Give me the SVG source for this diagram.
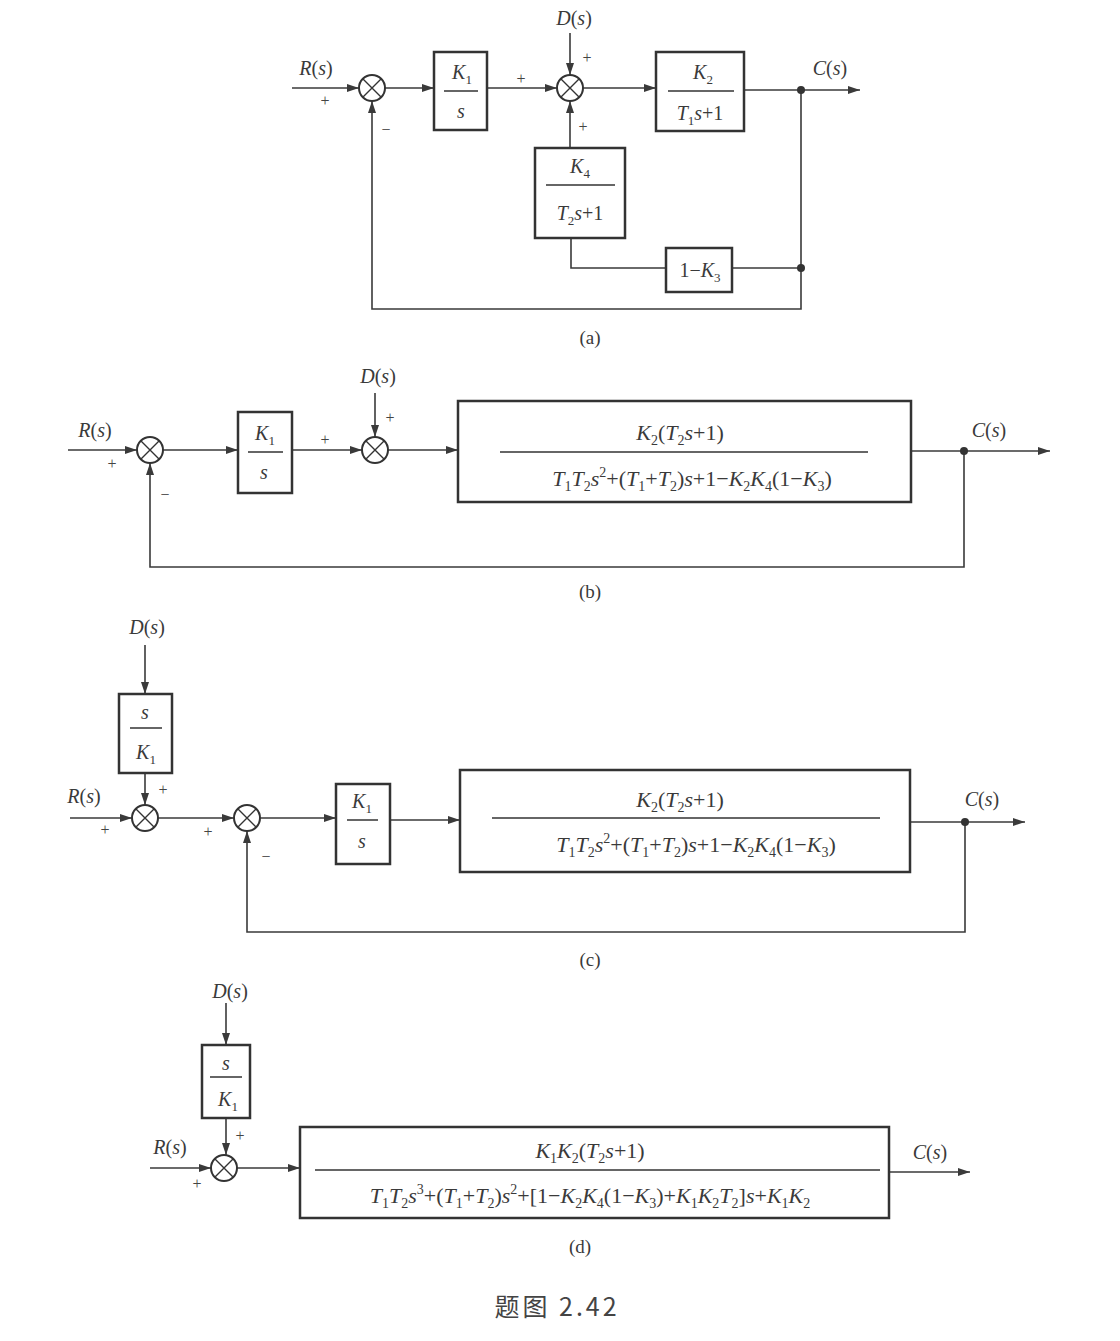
<svg xmlns="http://www.w3.org/2000/svg" width="1120" height="1341" viewBox="0 0 1120 1341">
<defs>
<marker id="ar" viewBox="0 0 12 8" refX="12" refY="4" markerWidth="12" markerHeight="8" markerUnits="userSpaceOnUse" orient="auto">
<path d="M0,0 L12,4 L0,8 Z" fill="#3a3a3a"/>
</marker>
<style>
.t{font-family:"Liberation Serif",serif;font-size:20px;fill:#3a3a3a;text-anchor:middle}
.f{font-size:22px}
.f .sb{font-size:14px}
.i{font-style:italic}
.sb{font-size:13px}
.pm{font-family:"Liberation Serif",serif;font-size:16px;fill:#444;text-anchor:middle}
.ln{stroke:#3a3a3a;stroke-width:1.6;fill:none}
.ar{marker-end:url(#ar)}
.blk{stroke:#333;stroke-width:2.5;fill:none}
.fr{stroke:#333;stroke-width:1.5}
.sum{stroke:#333;stroke-width:2;fill:#fff}
.x{stroke:#333;stroke-width:1.4}
.dot{fill:#333}
.cap{font-family:"Liberation Serif",serif;font-size:19px;fill:#3a3a3a;text-anchor:middle}
</style>
</defs>
<rect width="1120" height="1341" fill="#fff"/>

<!-- ================= (a) ================= -->
<g id="connectors-a">
<path class="ln ar" d="M292 88 H359"/>
<path class="ln ar" d="M385 88 H434"/>
<path class="ln ar" d="M487 88 H557"/>
<path class="ln ar" d="M570 33 V75"/>
<path class="ln ar" d="M583 88 H656"/>
<path class="ln ar" d="M744 90 H860"/>
<path class="ln ar" d="M801 90 V309 H372 V101"/>
<path class="ln" d="M801 268 H732"/>
<path class="ln" d="M666 268 H571 V238"/>
<path class="ln ar" d="M570 148 V101"/>
<circle class="dot" cx="801" cy="90" r="4"/>
<circle class="dot" cx="801" cy="268" r="4"/>
</g>
<g id="a-sum1"><circle class="sum" cx="372" cy="88" r="13"/><path class="x" d="M363 79 L381 97 M381 79 L363 97"/></g>
<g id="a-sum2"><circle class="sum" cx="570" cy="88" r="13"/><path class="x" d="M561 79 L579 97 M579 79 L561 97"/></g>
<g id="a-K1s">
<rect class="blk" x="434" y="52" width="53" height="78"/>
<line class="fr" x1="444" y1="91" x2="478" y2="91"/>
<text class="t" x="462" y="79"><tspan class="i">K</tspan><tspan class="sb" dy="5">1</tspan></text>
<text class="t i" x="461" y="118">s</text>
</g>
<g id="a-K2">
<rect class="blk" x="656" y="52" width="88" height="79"/>
<line class="fr" x1="668" y1="91" x2="734" y2="91"/>
<text class="t" x="703" y="79"><tspan class="i">K</tspan><tspan class="sb" dy="5">2</tspan></text>
<text class="t" x="700" y="120"><tspan class="i">T</tspan><tspan class="sb" dy="5">1</tspan><tspan class="i" dy="-5">s</tspan><tspan>+1</tspan></text>
</g>
<g id="a-K4">
<rect class="blk" x="535" y="148" width="90" height="90"/>
<line class="fr" x1="546" y1="185" x2="615" y2="185"/>
<text class="t" x="580" y="173"><tspan class="i">K</tspan><tspan class="sb" dy="5">4</tspan></text>
<text class="t" x="580" y="220"><tspan class="i">T</tspan><tspan class="sb" dy="5">2</tspan><tspan class="i" dy="-5">s</tspan><tspan>+1</tspan></text>
</g>
<g id="a-1K3">
<rect class="blk" x="666" y="248" width="66" height="44"/>
<text class="t" x="700" y="277"><tspan>1−</tspan><tspan class="i">K</tspan><tspan class="sb" dy="5">3</tspan></text>
</g>
<g id="a-labels">
<text class="t" x="316" y="75"><tspan class="i">R</tspan>(<tspan class="i">s</tspan>)</text>
<text class="pm" x="325" y="106">+</text>
<text class="pm" x="386" y="135">−</text>
<text class="pm" x="521" y="84">+</text>
<text class="t" x="574" y="25"><tspan class="i">D</tspan>(<tspan class="i">s</tspan>)</text>
<text class="pm" x="587" y="63">+</text>
<text class="pm" x="583" y="132">+</text>
<text class="t" x="830" y="75"><tspan class="i">C</tspan>(<tspan class="i">s</tspan>)</text>
<text class="cap" x="590" y="344">(a)</text>
</g>

<!-- ================= (b) ================= -->
<g id="connectors-b">
<path class="ln ar" d="M68 450 H137"/>
<path class="ln ar" d="M163 450 H238"/>
<path class="ln ar" d="M292 450 H362"/>
<path class="ln ar" d="M375 393 V437"/>
<path class="ln ar" d="M388 450 H458"/>
<path class="ln ar" d="M911 451 H1050"/>
<path class="ln ar" d="M964 451 V567 H150 V463"/>
<circle class="dot" cx="964" cy="451" r="4"/>
</g>
<g id="b-sum1"><circle class="sum" cx="150" cy="450" r="13"/><path class="x" d="M141 441 L159 459 M159 441 L141 459"/></g>
<g id="b-sum2"><circle class="sum" cx="375" cy="450" r="13"/><path class="x" d="M366 441 L384 459 M384 441 L366 459"/></g>
<g id="b-K1s">
<rect class="blk" x="238" y="412" width="54" height="81"/>
<line class="fr" x1="248" y1="452" x2="283" y2="452"/>
<text class="t" x="265" y="440"><tspan class="i">K</tspan><tspan class="sb" dy="5">1</tspan></text>
<text class="t i" x="264" y="479">s</text>
</g>
<g id="b-G">
<rect class="blk" x="458" y="401" width="453" height="101"/>
<line class="fr" x1="500" y1="452" x2="868" y2="452"/>
<text class="t f" x="680" y="440"><tspan class="i">K</tspan><tspan class="sb" dy="5">2</tspan><tspan dy="-5">(</tspan><tspan class="i">T</tspan><tspan class="sb" dy="5">2</tspan><tspan class="i" dy="-5">s</tspan><tspan>+1)</tspan></text>
<text class="t f" x="692" y="486"><tspan class="i">T</tspan><tspan class="sb" dy="5">1</tspan><tspan class="i" dy="-5">T</tspan><tspan class="sb" dy="5">2</tspan><tspan class="i" dy="-5">s</tspan><tspan class="sb" dy="-9">2</tspan><tspan dy="9">+(</tspan><tspan class="i">T</tspan><tspan class="sb" dy="5">1</tspan><tspan dy="-5">+</tspan><tspan class="i">T</tspan><tspan class="sb" dy="5">2</tspan><tspan dy="-5">)</tspan><tspan class="i">s</tspan><tspan>+1−</tspan><tspan class="i">K</tspan><tspan class="sb" dy="5">2</tspan><tspan class="i" dy="-5">K</tspan><tspan class="sb" dy="5">4</tspan><tspan dy="-5">(1−</tspan><tspan class="i">K</tspan><tspan class="sb" dy="5">3</tspan><tspan dy="-5">)</tspan></text>
</g>
<g id="b-labels">
<text class="t" x="95" y="437"><tspan class="i">R</tspan>(<tspan class="i">s</tspan>)</text>
<text class="pm" x="112" y="469">+</text>
<text class="pm" x="165" y="500">−</text>
<text class="pm" x="325" y="445">+</text>
<text class="t" x="378" y="383"><tspan class="i">D</tspan>(<tspan class="i">s</tspan>)</text>
<text class="pm" x="390" y="423">+</text>
<text class="t" x="989" y="437"><tspan class="i">C</tspan>(<tspan class="i">s</tspan>)</text>
<text class="cap" x="590" y="598">(b)</text>
</g>

<!-- ================= (c) ================= -->
<g id="connectors-c">
<path class="ln ar" d="M145 645 V694"/>
<path class="ln ar" d="M145 773 V805"/>
<path class="ln ar" d="M70 818 H132"/>
<path class="ln ar" d="M158 818 H234"/>
<path class="ln ar" d="M260 818 H336"/>
<path class="ln ar" d="M390 820 H460"/>
<path class="ln ar" d="M910 822 H1025"/>
<path class="ln ar" d="M965 822 V932 H247 V831"/>
<circle class="dot" cx="965" cy="822" r="4"/>
</g>
<g id="c-sum1"><circle class="sum" cx="145" cy="818" r="13"/><path class="x" d="M136 809 L154 827 M154 809 L136 827"/></g>
<g id="c-sum2"><circle class="sum" cx="247" cy="818" r="13"/><path class="x" d="M238 809 L256 827 M256 809 L238 827"/></g>
<g id="c-sK1">
<rect class="blk" x="119" y="694" width="53" height="79"/>
<line class="fr" x1="130" y1="728" x2="162" y2="728"/>
<text class="t i" x="145" y="719">s</text>
<text class="t" x="146" y="759"><tspan class="i">K</tspan><tspan class="sb" dy="5">1</tspan></text>
</g>
<g id="c-K1s">
<rect class="blk" x="336" y="784" width="54" height="80"/>
<line class="fr" x1="347" y1="820" x2="378" y2="820"/>
<text class="t" x="362" y="808"><tspan class="i">K</tspan><tspan class="sb" dy="5">1</tspan></text>
<text class="t i" x="362" y="848">s</text>
</g>
<g id="c-G">
<rect class="blk" x="460" y="770" width="450" height="102"/>
<line class="fr" x1="492" y1="818" x2="880" y2="818"/>
<text class="t f" x="680" y="807"><tspan class="i">K</tspan><tspan class="sb" dy="5">2</tspan><tspan dy="-5">(</tspan><tspan class="i">T</tspan><tspan class="sb" dy="5">2</tspan><tspan class="i" dy="-5">s</tspan><tspan>+1)</tspan></text>
<text class="t f" x="696" y="852"><tspan class="i">T</tspan><tspan class="sb" dy="5">1</tspan><tspan class="i" dy="-5">T</tspan><tspan class="sb" dy="5">2</tspan><tspan class="i" dy="-5">s</tspan><tspan class="sb" dy="-9">2</tspan><tspan dy="9">+(</tspan><tspan class="i">T</tspan><tspan class="sb" dy="5">1</tspan><tspan dy="-5">+</tspan><tspan class="i">T</tspan><tspan class="sb" dy="5">2</tspan><tspan dy="-5">)</tspan><tspan class="i">s</tspan><tspan>+1−</tspan><tspan class="i">K</tspan><tspan class="sb" dy="5">2</tspan><tspan class="i" dy="-5">K</tspan><tspan class="sb" dy="5">4</tspan><tspan dy="-5">(1−</tspan><tspan class="i">K</tspan><tspan class="sb" dy="5">3</tspan><tspan dy="-5">)</tspan></text>
</g>
<g id="c-labels">
<text class="t" x="147" y="634"><tspan class="i">D</tspan>(<tspan class="i">s</tspan>)</text>
<text class="pm" x="163" y="795">+</text>
<text class="t" x="84" y="803"><tspan class="i">R</tspan>(<tspan class="i">s</tspan>)</text>
<text class="pm" x="105" y="835">+</text>
<text class="pm" x="208" y="837">+</text>
<text class="pm" x="266" y="862">−</text>
<text class="t" x="982" y="806"><tspan class="i">C</tspan>(<tspan class="i">s</tspan>)</text>
<text class="cap" x="590" y="966">(c)</text>
</g>

<!-- ================= (d) ================= -->
<g id="connectors-d">
<path class="ln ar" d="M226 1003 V1045"/>
<path class="ln ar" d="M226 1118 V1155"/>
<path class="ln ar" d="M150 1168 H211"/>
<path class="ln ar" d="M237 1168 H300"/>
<path class="ln ar" d="M889 1172 H970"/>
</g>
<g id="d-sum"><circle class="sum" cx="224" cy="1168" r="13"/><path class="x" d="M215 1159 L233 1177 M233 1159 L215 1177"/></g>
<g id="d-sK1">
<rect class="blk" x="202" y="1045" width="48" height="73"/>
<line class="fr" x1="210" y1="1077" x2="242" y2="1077"/>
<text class="t i" x="226" y="1070">s</text>
<text class="t" x="228" y="1106"><tspan class="i">K</tspan><tspan class="sb" dy="5">1</tspan></text>
</g>
<g id="d-G">
<rect class="blk" x="300" y="1127" width="589" height="91"/>
<line class="fr" x1="315" y1="1170" x2="880" y2="1170"/>
<text class="t f" x="590" y="1158"><tspan class="i">K</tspan><tspan class="sb" dy="5">1</tspan><tspan class="i" dy="-5">K</tspan><tspan class="sb" dy="5">2</tspan><tspan dy="-5">(</tspan><tspan class="i">T</tspan><tspan class="sb" dy="5">2</tspan><tspan class="i" dy="-5">s</tspan><tspan>+1)</tspan></text>
<text class="t f" x="590" y="1203"><tspan class="i">T</tspan><tspan class="sb" dy="5">1</tspan><tspan class="i" dy="-5">T</tspan><tspan class="sb" dy="5">2</tspan><tspan class="i" dy="-5">s</tspan><tspan class="sb" dy="-9">3</tspan><tspan dy="9">+(</tspan><tspan class="i">T</tspan><tspan class="sb" dy="5">1</tspan><tspan dy="-5">+</tspan><tspan class="i">T</tspan><tspan class="sb" dy="5">2</tspan><tspan dy="-5">)</tspan><tspan class="i">s</tspan><tspan class="sb" dy="-9">2</tspan><tspan dy="9">+[1−</tspan><tspan class="i">K</tspan><tspan class="sb" dy="5">2</tspan><tspan class="i" dy="-5">K</tspan><tspan class="sb" dy="5">4</tspan><tspan dy="-5">(1−</tspan><tspan class="i">K</tspan><tspan class="sb" dy="5">3</tspan><tspan dy="-5">)+</tspan><tspan class="i">K</tspan><tspan class="sb" dy="5">1</tspan><tspan class="i" dy="-5">K</tspan><tspan class="sb" dy="5">2</tspan><tspan class="i" dy="-5">T</tspan><tspan class="sb" dy="5">2</tspan><tspan dy="-5">]</tspan><tspan class="i">s</tspan><tspan>+</tspan><tspan class="i">K</tspan><tspan class="sb" dy="5">1</tspan><tspan class="i" dy="-5">K</tspan><tspan class="sb" dy="5">2</tspan></text>
</g>
<g id="d-labels">
<text class="t" x="230" y="998"><tspan class="i">D</tspan>(<tspan class="i">s</tspan>)</text>
<text class="pm" x="240" y="1141">+</text>
<text class="t" x="170" y="1154"><tspan class="i">R</tspan>(<tspan class="i">s</tspan>)</text>
<text class="pm" x="197" y="1189">+</text>
<text class="t" x="930" y="1159"><tspan class="i">C</tspan>(<tspan class="i">s</tspan>)</text>
<text class="cap" x="580" y="1253">(d)</text>
</g>

<text x="557" y="1316" font-family="'Noto Sans CJK SC',sans-serif" font-size="25" letter-spacing="3" fill="#444" text-anchor="middle">题图 2.42</text>
</svg>
